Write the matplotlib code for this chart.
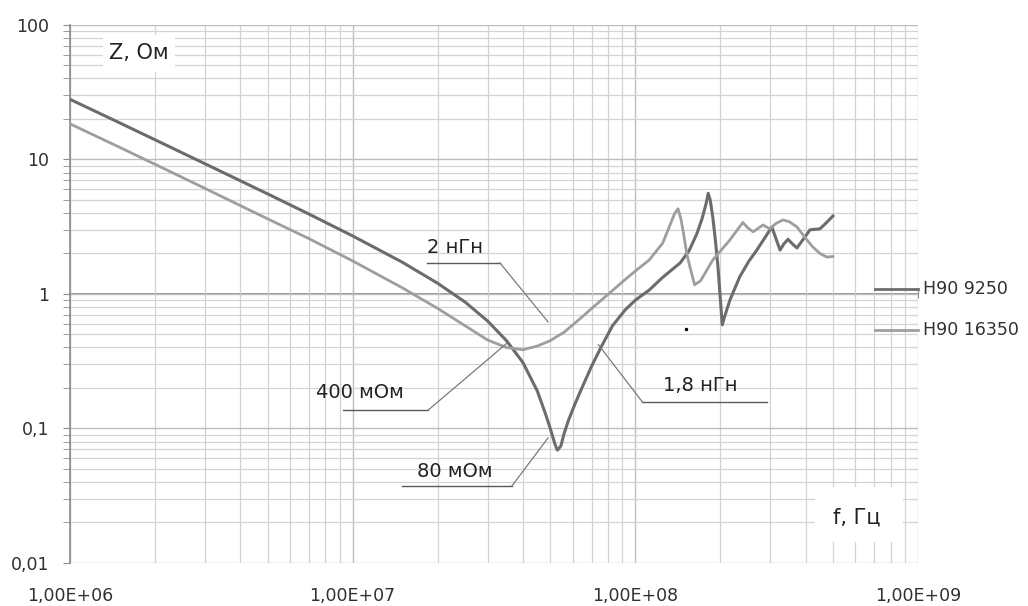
import numpy as np
import matplotlib
matplotlib.use("Agg")
import matplotlib.pyplot as plt
from matplotlib.patches import Rectangle
from matplotlib.ticker import LogLocator, NullFormatter

### ==========================================
### DONNÉES
### ==========================================

# H90 9250 : fréquence (MHz) / impédance (Ом)
FREQ_9250_MHZ = [1, 1.5, 2, 3, 5, 7, 10, 15, 20, 25,
                 30, 35, 40, 45, 48, 50, 52, 53, 54.5, 56,
                 58, 61, 64, 70, 76, 83, 92, 100, 112, 125,
                 144, 155, 165, 172, 178, 181, 184, 188, 192, 196,
                 200, 203, 207, 216, 234, 252, 269, 290, 304, 315,
                 325, 335, 347, 360, 373, 390, 415, 450, 475, 500]
Z_9250 = [28, 18.7, 14, 9.3, 5.55, 3.93, 2.7, 1.72, 1.2, 0.87,
          0.63, 0.45, 0.31, 0.19, 0.13, 0.1, 0.076, 0.069, 0.074, 0.092,
          0.115, 0.15, 0.19, 0.29, 0.41, 0.58, 0.76, 0.9, 1.07, 1.33,
          1.7, 2.1, 2.8, 3.6, 4.7, 5.6, 5.0, 3.7, 2.5, 1.6,
          0.9, 0.59, 0.68, 0.9, 1.34, 1.75, 2.12, 2.7, 3.15, 2.55,
          2.12, 2.35, 2.55, 2.35, 2.2, 2.5, 3.0, 3.05, 3.4, 3.8]

# H90 16350
FREQ_16350_MHZ = [1, 1.5, 2, 3, 5, 7, 10, 15, 20, 25,
                  30, 35, 40, 45, 50, 56, 64, 72, 83, 92,
                  100, 112, 125, 133, 138, 141.6, 145, 148, 152, 156,
                  162, 170, 188, 216, 240, 250, 261, 283, 299, 315,
                  333, 350, 373, 400, 425, 450, 476, 500]
Z_16350 = [18.4, 12.3, 9.2, 6.1, 3.62, 2.58, 1.76, 1.11, 0.78, 0.58,
           0.455, 0.4, 0.385, 0.41, 0.45, 0.52, 0.66, 0.82, 1.06, 1.28,
           1.48, 1.79, 2.39, 3.3, 4.0, 4.3, 3.6, 2.84, 2.0, 1.59,
           1.17, 1.25, 1.79, 2.52, 3.4, 3.1, 2.9, 3.26, 3.05, 3.35,
           3.55, 3.45, 3.15, 2.6, 2.23, 2.0, 1.88, 1.9]

SERIES_NAMES = ["H90 9250", "H90 16350"]

X_TICKS = [1e6, 1e7, 1e8, 1e9]
X_TICK_LABELS = ["1,00E+06", "1,00E+07", "1,00E+08", "1,00E+09"]
Y_TICKS = [0.01, 0.1, 1, 10, 100]
Y_TICK_LABELS = ["0,01", "0,1", "1", "10", "100"]

# Annotations : texte, position du texte, soulignement (x0, x1, y), pointe (x, y)
ANNOTATIONS = [
    ("2 нГн", (23.0e6, 2.2), (18.3e6, 33.2e6, 1.70), (49.1e6, 0.62), 'left'),
    ("400 мОм", (10.6e6, 0.184), (9.25e6, 18.5e6, 0.137), (35.2e6, 0.432), 'right'),
    ("80 мОм", (23.0e6, 0.0475), (14.9e6, 36.6e6, 0.0374), (49.1e6, 0.085), 'right'),
    ("1,8 нГн", (169e6, 0.21), (106e6, 292e6, 0.157), (74e6, 0.42), 'left'),
]

### ==========================================
### STYLE
### ==========================================

COULEUR_9250 = '#6c6c6c'
COULEUR_16350 = '#9e9e9e'
COULEUR_AXE = '#8c8c8c'
COULEUR_TEXTE = '#303030'


def tracer():
    fig = plt.figure(figsize=(10.28, 6.06), dpi=100, facecolor='white')
    ax = fig.add_axes([0.0681, 0.0710, 0.8249, 0.8878])

    ax.set_xscale('log')
    ax.set_yscale('log')
    ax.set_xlim(1e6, 1e9)
    ax.set_ylim(0.01, 100)

    # --- 1. GRILLE ---
    ax.set_axisbelow(True)
    for axe in (ax.xaxis, ax.yaxis):
        axe.set_minor_locator(LogLocator(base=10, subs=np.arange(2, 10), numticks=20))
        axe.set_minor_formatter(NullFormatter())
    ax.set_xticks(X_TICKS, X_TICK_LABELS)
    ax.set_yticks(Y_TICKS, Y_TICK_LABELS)
    ax.grid(True, which='major', color='#bdbdbd', linewidth=1.0)
    ax.grid(True, which='minor', color='#d3d3d3', linewidth=0.9)

    for s in ['top', 'right', 'bottom']:
        ax.spines[s].set_visible(False)
    ax.spines['left'].set_color(COULEUR_AXE)
    ax.spines['left'].set_linewidth(1.2)

    ax.tick_params(axis='x', which='both', length=0, pad=17,
                   labelsize=12.5, labelcolor=COULEUR_TEXTE)
    ax.tick_params(axis='y', which='both', direction='out', length=5,
                   color=COULEUR_AXE, pad=10, labelsize=12.5, labelcolor=COULEUR_TEXTE)

    # axe horizontal qui croise à Z = 1
    axe_un = ax.secondary_xaxis(0.5)
    axe_un.xaxis.set_minor_locator(LogLocator(base=10, subs=np.arange(2, 10), numticks=20))
    axe_un.xaxis.set_minor_formatter(NullFormatter())
    axe_un.set_xticks(X_TICKS)
    axe_un.tick_params(which='both', direction='inout', length=6, color=COULEUR_AXE,
                       labelbottom=False, labeltop=False)
    for s in axe_un.spines.values():
        s.set_color(COULEUR_AXE)
        s.set_linewidth(1.3)

    # --- 2. COURBES ---
    ax.plot(np.array(FREQ_9250_MHZ) * 1e6, Z_9250, color=COULEUR_9250, linewidth=2.2, zorder=3)
    ax.plot(np.array(FREQ_16350_MHZ) * 1e6, Z_16350, color=COULEUR_16350, linewidth=2.0, zorder=3)
    ax.plot([151e6], [0.55], marker='o', markersize=1.5, color='black', zorder=3)

    # --- 3. ANNOTATIONS ---
    for texte, (tx, ty), (x0, x1, yl), (px, py), cote in ANNOTATIONS:
        ax.text(tx, ty, texte, ha='center', va='center', fontsize=14, color='#222222', zorder=4)
        ax.plot([x0, x1], [yl, yl], color='#5a5a5a', linewidth=1.0, zorder=4)
        depart = x1 if cote == 'right' else x0
        if texte == "2 нГн":
            depart = x1
        ax.plot([depart, px], [yl, py], color='#7a7a7a', linewidth=0.9, zorder=4)

    # --- 4. TITRES D'AXES ---
    ax.add_patch(Rectangle((0.0389, 0.9126), 0.0849, 0.0688, transform=ax.transAxes,
                           facecolor='white', edgecolor='none', zorder=1))
    ax.text(0.0814, 0.948, "Z, Ом", transform=ax.transAxes, ha='center', va='center',
            fontsize=15, color='#222222', zorder=4)
    ax.add_patch(Rectangle((0.8785, 0.039), 0.1038, 0.1022, transform=ax.transAxes,
                           facecolor='white', edgecolor='none', zorder=1))
    ax.text(0.928, 0.0836, "f, Гц", transform=ax.transAxes, ha='center', va='center',
            fontsize=15, color='#222222', zorder=4)

    # --- 5. LÉGENDE ---
    for nom, couleur, y in zip(SERIES_NAMES, [COULEUR_9250, COULEUR_16350], [0.509, 0.433]):
        ax.plot([0.949, 1.0], [y, y], transform=ax.transAxes, color=couleur,
                linewidth=2.0, clip_on=False, zorder=4)
        ax.text(1.006, y, nom, transform=ax.transAxes, ha='left', va='center',
                fontsize=12.5, color=COULEUR_TEXTE)

    fig.savefig("out.png", dpi=100, facecolor='white')


if __name__ == "__main__":
    tracer()
